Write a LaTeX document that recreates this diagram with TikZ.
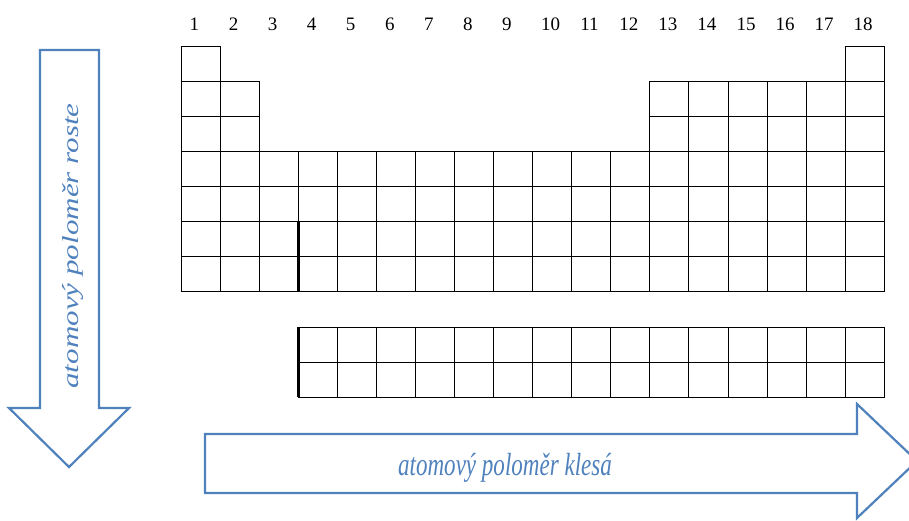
\documentclass[tikz,border=0pt]{standalone}
\usepackage{fontspec}
\setmainfont{Liberation Serif}
\usepackage{xcolor}
\definecolor{arrowblue}{HTML}{4F81BD}

\begin{document}
\begin{tikzpicture}[x=1pt,y=-1pt,
    cell/.style={draw=black,line width=0.7pt},
    bigarrow/.style={draw=arrowblue,line width=2.2pt,line join=miter},
    lbl/.style={text=arrowblue,inner sep=0pt}]
  \useasboundingbox (0,0) rectangle (909,520);
  \def\cw{39.06}
  \def\rh{35.1}
  % group numbers
  \foreach \g in {1,...,18}
    \node[anchor=base west,inner sep=0pt,font=\fontsize{19}{19}\selectfont] (g\g) at ({181+(\g-1)*\cw+8.5},30) {\g};
  % main block
  \foreach \c in {1,18}
    \draw[cell] ({181+(\c-1)*\cw},46) rectangle +(\cw,\rh);
  \foreach \r in {2,3}
    \foreach \c in {1,2,13,14,...,18}
      \draw[cell] ({181+(\c-1)*\cw},{46+(\r-1)*\rh}) rectangle +(\cw,\rh);
  \foreach \r in {4,...,7}
    \foreach \c in {1,...,18}
      \draw[cell] ({181+(\c-1)*\cw},{46+(\r-1)*\rh}) rectangle +(\cw,\rh);
  % lanthanoids, actinoids
  \foreach \r in {0,1}
    \foreach \c in {4,...,18}
      \draw[cell] ({181+(\c-1)*\cw},{327+\r*\rh}) rectangle +(\cw,\rh);
  \draw[line width=3.2pt] ({181+3*\cw},{46+5*\rh}) -- ({181+3*\cw},{46+7*\rh});
  \draw[line width=3.2pt] ({181+3*\cw},327) -- ({181+3*\cw},{327+2*\rh});
  % arrows
  \draw[bigarrow] (40,50) -- (99,50) -- (99,408) -- (129,408) -- (69,467)
    -- (9,408) -- (40,408) -- cycle;
  \draw[bigarrow] (205,434) -- (857,434) -- (857,404) -- (917,461)
    -- (857,518) -- (857,493) -- (205,493) -- cycle;
  \node[lbl,font=\itshape\fontsize{23}{23}\selectfont,rotate=90,xscale=1.35,anchor=base] (roste) at (78,246) {atomový poloměr roste};
  \node[lbl,font=\itshape\fontsize{32}{32}\selectfont,xscale=0.72,anchor=base] (klesa) at (505,475) {atomový poloměr klesá};
\end{tikzpicture}
\end{document}
